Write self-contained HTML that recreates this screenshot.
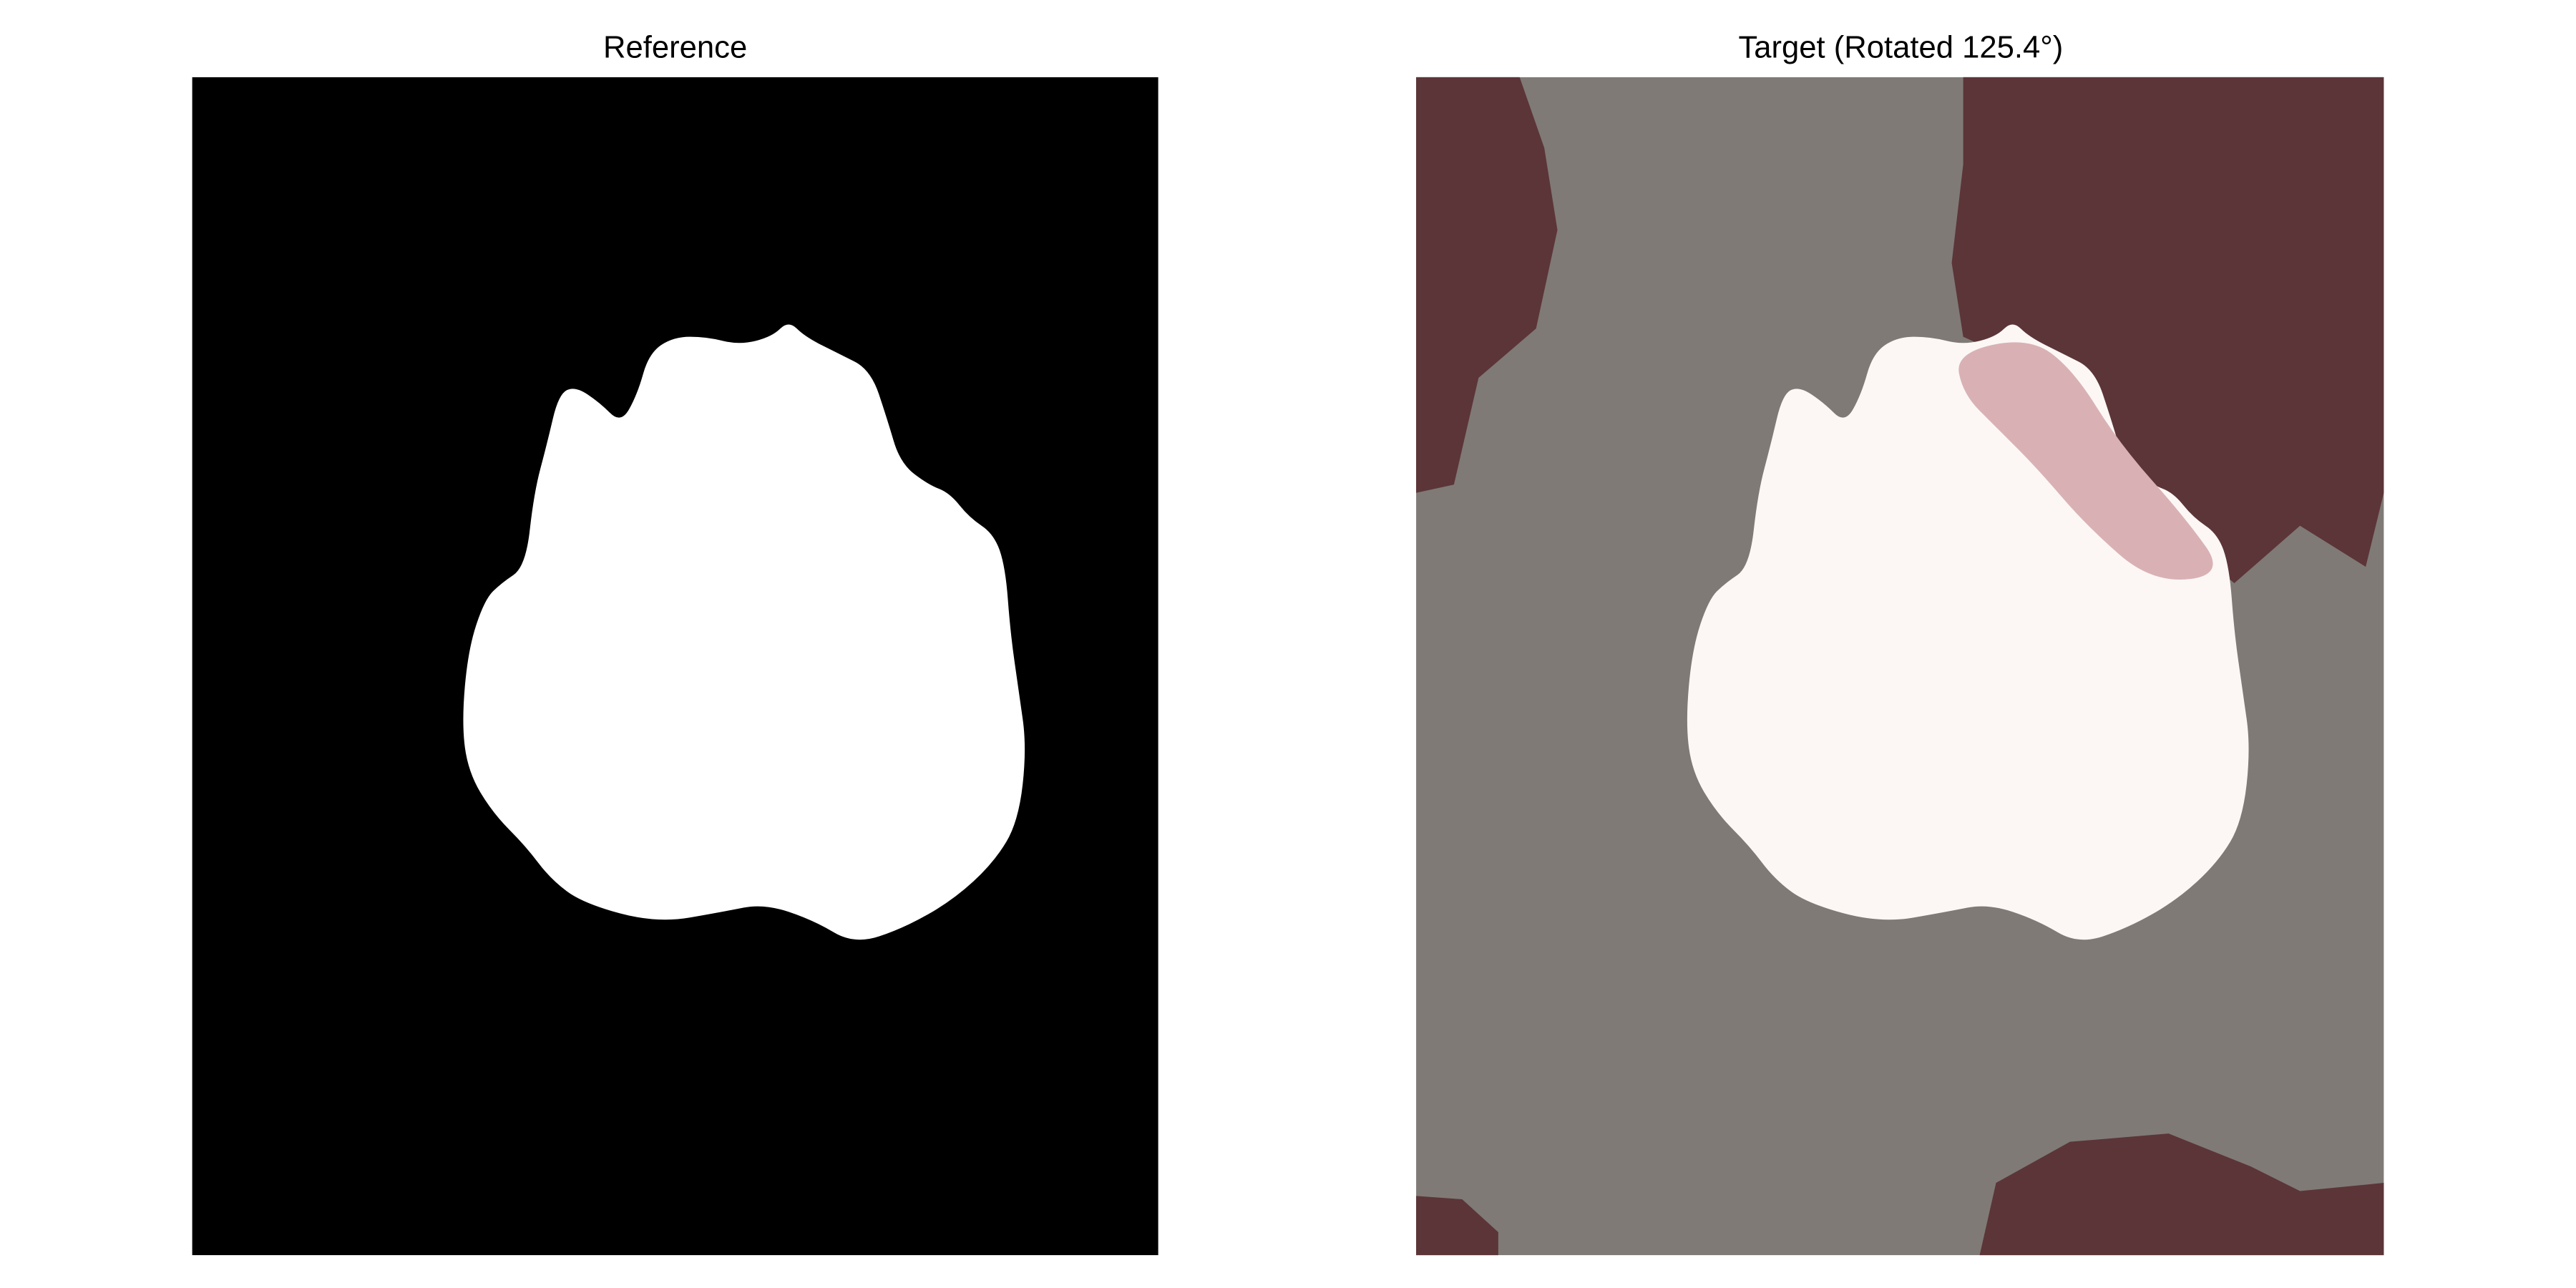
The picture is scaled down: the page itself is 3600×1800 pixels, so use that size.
<!DOCTYPE html>
<html><head><meta charset="utf-8"><style>
html,body{margin:0;padding:0;background:#fff;width:3600px;height:1800px;overflow:hidden}
svg{display:block}
text{font-family:"Liberation Sans","DejaVu Sans",sans-serif}
</style></head><body>
<svg id="fig" width="3600" height="1800" viewBox="0 0 1568 784" xmlns="http://www.w3.org/2000/svg">
<rect width="1568" height="784" fill="#fff"/>
<text x="411" y="35" font-size="19" text-anchor="middle" fill="#000">Reference</text>
<text x="1157" y="35" font-size="19" text-anchor="middle" fill="#000">Target (Rotated 125.4°)</text>
<rect x="117" y="47" width="588" height="717" fill="#000"/>
<rect x="862" y="47" width="589" height="717" fill="#7f7a76"/>
<g id="dark"></g>
<path id="refblob" fill="#fff"/>
<path id="tgtblob" fill="#fcf7f4"/>
<path id="pink" fill="#d9b1b5"/>
</svg>
<script>
// mask outline (display coords, reference panel)
const blobX=[295,285,281,285,300,320,335,355,400,440,465,495,520,550,580,605,620,625,620,615,612,605,590,578,565,548,540,530,510,490,480,470,450,430,410,395,388,378,365,350,340,333,325,320,305];
const blobY=[365,395,440,470,495,515,535,550,562,555,550,560,575,565,548,525,500,455,420,385,345,325,315,300,295,282,255,225,215,205,195,205,210,205,205,215,240,258,245,235,240,270,300,345,355];
const shift=745;
const darkBlobs=[
 [[862,47],[925,47],[940,90],[948,140],[935,200],[900,230],[885,295],[862,300]],
 [[1195,47],[1451,47],[1451,300],[1440,345],[1400,320],[1360,355],[1330,330],[1300,290],[1250,230],[1195,205],[1188,160],[1195,100]],
 [[1205,764],[1215,720],[1260,695],[1320,690],[1370,710],[1400,725],[1451,720],[1451,764]],
 [[862,764],[862,728],[890,730],[912,750],[912,764]]
];
const pinkPts=[[1190,215],[1235,205],[1262,225],[1290,270],[1330,315],[1355,350],[1310,355],[1270,320],[1240,285],[1215,260],[1195,240]];
function smooth(pts){const n=pts.length;let d='M'+((pts[n-1][0]+pts[0][0])/2)+','+((pts[n-1][1]+pts[0][1])/2);
for(let i=0;i<n;i++){const p=pts[i],q=pts[(i+1)%n];d+='Q'+p[0]+','+p[1]+' '+((p[0]+q[0])/2)+','+((p[1]+q[1])/2);}return d+'Z';}
function pathPts(p){return p.map((q,i)=>(i?'L':'M')+q[0]+','+q[1]).join('')+'Z';}
const ref=blobX.map((x,i)=>[x,blobY[i]]);
const tgt=blobX.map((x,i)=>[x+shift,blobY[i]]);
document.getElementById('refblob').setAttribute('d',smooth(ref));
document.getElementById('tgtblob').setAttribute('d',smooth(tgt));
document.getElementById('pink').setAttribute('d',smooth(pinkPts));
const g=document.getElementById('dark');
darkBlobs.forEach((b,i)=>{const p=document.createElementNS('http://www.w3.org/2000/svg','path');
p.setAttribute('d',pathPts(b));p.setAttribute('fill','#5c3538');


g.appendChild(p);});
</script>
</body></html>
